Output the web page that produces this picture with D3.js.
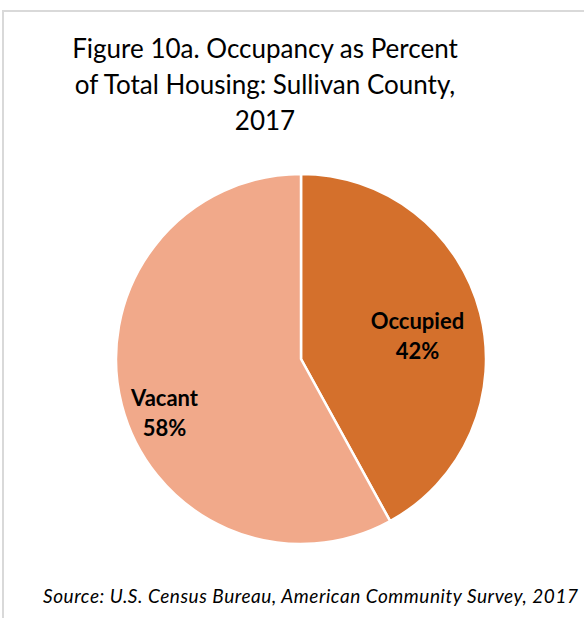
<!DOCTYPE html>
<html>
<head>
<meta charset="utf-8">
<script src="https://cdn.jsdelivr.net/npm/d3@7"></script>
<style>
  body { margin: 0; background: #fff; }
  svg text { font-family: Lato, "Open Sans", sans-serif; }
</style>
</head>
<body>
<div id="viz"></div>
<script>
const categories = ["Occupied", "Vacant"];
const values = [42, 58];
const colors = ["#D4702C", "#F1A98A"];
const titleLines = ["Figure 10a. Occupancy as Percent", "of Total Housing: Sullivan County,", "2017"];
const source = "Source: U.S. Census Bureau, American Community Survey, 2017";

const width = 584, height = 618;
const cx = 301, cy = 359, radius = 185;
// label placement: fraction of radius and angle shift (radians) per slice
const labelRadius = [0.65, 0.78];
const labelTurn = [0, -0.08];

const svg = d3.select("#viz").append("svg")
    .attr("width", width)
    .attr("height", height);

// chart frame (only top/left visible in the crop)
svg.append("path")
    .attr("d", `M3,${height} L3,11 L${width},11`)
    .attr("fill", "none")
    .attr("stroke", "#d9d9d9")
    .attr("stroke-width", 2);

svg.selectAll("text.title")
    .data(titleLines)
    .enter()
    .append("text")
    .attr("class", "title")
    .attr("x", 265)
    .attr("y", (d, i) => 58 + i * 36)
    .attr("text-anchor", "middle")
    .attr("font-size", 26)
    .attr("fill", "#000")
    .text(d => d);

const data = categories.map((c, i) => ({ name: c, value: values[i], color: colors[i] }));

const pie = d3.pie().sort(null).value(d => d.value);
const arc = d3.arc().innerRadius(0).outerRadius(radius);

const g = svg.append("g").attr("transform", `translate(${cx},${cy})`);

g.selectAll("path")
    .data(pie(data))
    .enter()
    .append("path")
    .attr("d", arc)
    .attr("fill", d => d.data.color)
    .attr("stroke", "#fff")
    .attr("stroke-width", 2.5);

const labels = g.selectAll("text.lbl")
    .data(pie(data))
    .enter()
    .append("text")
    .attr("class", "lbl")
    .attr("text-anchor", "middle")
    .attr("font-size", 22)
    .attr("font-weight", "bold")
    .attr("fill", "#000")
    .attr("transform", (d, i) => {
        const r = radius * labelRadius[i];
        const a = (d.startAngle + d.endAngle) / 2 + labelTurn[i];
        return `translate(${r * Math.sin(a)},${-r * Math.cos(a)})`;
    });

labels.append("tspan").attr("x", 0).attr("dy", "0").text(d => d.data.name);
labels.append("tspan").attr("x", 0).attr("dy", "1.36em").text(d => d.data.value + "%");

svg.append("text")
    .attr("x", 578)
    .attr("y", 603)
    .attr("text-anchor", "end")
    .attr("font-size", 19)
    .attr("font-style", "italic")
    .attr("fill", "#000")
    .attr("textLength", 535)
    .attr("lengthAdjust", "spacing")
    .text(source);
</script>
</body>
</html>
